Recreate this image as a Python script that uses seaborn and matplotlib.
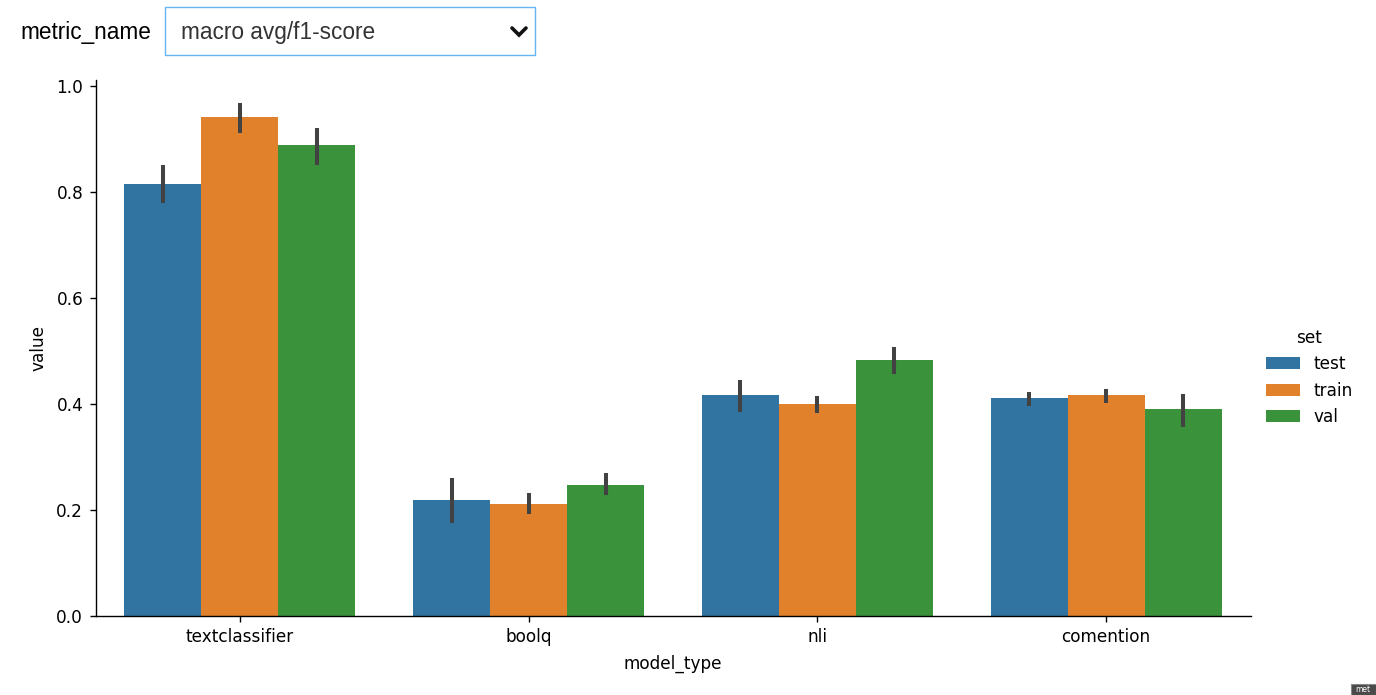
import numpy as np
import pandas as pd
import matplotlib
matplotlib.use("Agg")
import matplotlib.pyplot as plt
from matplotlib.patches import Rectangle
from matplotlib.lines import Line2D
import seaborn as sns

# ---- data ----
model_types = ["textclassifier", "boolq", "nli", "comention"]
sets = ["test", "train", "val"]
# mean values per model_type (rows) x set (cols)
means = [
    [0.815, 0.941, 0.889],
    [0.219, 0.211, 0.247],
    [0.417, 0.400, 0.483],
    [0.411, 0.417, 0.391],
]
# confidence interval lower / upper bounds
err_low = [
    [0.783, 0.915, 0.855],
    [0.179, 0.196, 0.232],
    [0.389, 0.387, 0.460],
    [0.400, 0.406, 0.360],
]
err_high = [
    [0.847, 0.964, 0.917],
    [0.256, 0.228, 0.266],
    [0.441, 0.411, 0.504],
    [0.419, 0.424, 0.415],
]
metric_label = "metric_name"
metric_value = "macro avg/f1-score"

# long table: each group holds (low, mean, high); median -> mean, min/max -> CI
rows = []
for i, mt in enumerate(model_types):
    for j, s in enumerate(sets):
        for v in (err_low[i][j], means[i][j], err_high[i][j]):
            rows.append({"model_type": mt, "set": s, "value": v})
df = pd.DataFrame(rows)

W, H, DPI = 1376, 695, 100
plt.rcParams.update({
    "font.family": ["DejaVu Sans"],
    "font.size": 12.2,
    "axes.linewidth": 1.0,
    "xtick.major.size": 4.3,
    "ytick.major.size": 4.3,
    "xtick.major.width": 1.0,
    "ytick.major.width": 1.0,
    "xtick.major.pad": 4.6,
    "ytick.major.pad": 4.6,
    "xtick.labelsize": 12.2,
    "ytick.labelsize": 12.2,
    "axes.labelsize": 12.2,
    "axes.labelpad": 6.0,
})

fig = plt.figure(figsize=(W / DPI, H / DPI), dpi=DPI)

def px(x, y):
    return x / W, 1 - y / H

# axes placement
ax_left, ax_right, ax_bottom, ax_top = 95.5, 1250.5, 616, 80
ax = fig.add_axes([ax_left / W, 1 - ax_bottom / H,
                   (ax_right - ax_left) / W, (ax_bottom - ax_top) / H])

sns.barplot(data=df, x="model_type", y="value", hue="set",
            order=model_types, hue_order=sets,
            estimator="median", errorbar=lambda v: (v.min(), v.max()),
            err_kws={"color": "#424242", "linewidth": 2.9},
            ax=ax)
ax.set_ylim(0, 1.011)
ax.set_xlim(-0.5, len(model_types) - 0.5)
sns.despine(ax=ax)

sns.move_legend(ax, "center left", bbox_to_anchor=(1.0, 0.445),
                frameon=False, title="set")

# ---- dropdown widget mimic ----
fig.text(*px(20, 32), metric_label, ha="left", va="center",
         fontsize=16.3, family="Liberation Sans", color="black")
x0, y0 = px(165, 55)
x1, y1 = px(535, 7)
fig.patches.append(Rectangle((x0, y0), x1 - x0, y1 - y0, transform=fig.transFigure,
                             facecolor="white", edgecolor="#64b5f6", linewidth=1.0))
fig.text(*px(181, 32), metric_value, ha="left", va="center",
         fontsize=16.3, family="Liberation Sans", color="#333333")
cx = [px(512, 28)[0], px(519, 35)[0], px(526, 28)[0]]
cy = [px(512, 28)[1], px(519, 35)[1], px(526, 28)[1]]
fig.lines.append(Line2D(cx, cy, transform=fig.transFigure, color="#111111",
                        linewidth=2.6, solid_capstyle="round", solid_joinstyle="miter"))

# tiny tooltip fragment at bottom right
tx0, ty0 = px(1351, 695)
tx1, ty1 = px(1376, 684)
fig.patches.append(Rectangle((tx0, ty0), tx1 - tx0, ty1 - ty0, transform=fig.transFigure,
                             facecolor="#4a4a4a", edgecolor="#888888", linewidth=0.8))
fig.text(*px(1355, 690), "met", ha="left", va="center", fontsize=5.5, color="white")

fig.savefig("out.png", dpi=DPI)
